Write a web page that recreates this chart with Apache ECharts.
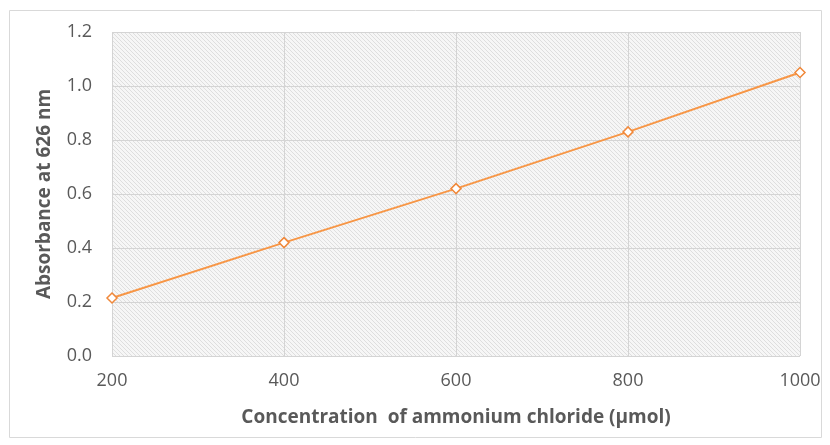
<!DOCTYPE html>
<html>
<head>
<meta charset="utf-8">
<script src="https://cdn.jsdelivr.net/npm/echarts@6/dist/echarts.min.js"></script>
<style>
  html, body { margin: 0; padding: 0; background: #fff; }
  #main { width: 830px; height: 445px; }
</style>
</head>
<body>
<div id="main"></div>
<script>
// concentration (µmol) and absorbance readings
var concentration = [200, 400, 600, 800, 1000];
var absorbance = [0.215, 0.42, 0.62, 0.83, 1.05];

// diagonal hatch for the plot area
function hatch() {
    var c = document.createElement('canvas');
    c.width = 4; c.height = 4;
    var ctx = c.getContext('2d');
    ctx.fillStyle = '#f6f6f6';
    ctx.fillRect(0, 0, 4, 4);
    ctx.strokeStyle = '#dedede';
    ctx.lineWidth = 1;
    ctx.beginPath();
    ctx.moveTo(0, 0); ctx.lineTo(4, 4);
    ctx.moveTo(-2, 2); ctx.lineTo(2, 6);
    ctx.moveTo(2, -2); ctx.lineTo(6, 2);
    ctx.stroke();
    return c;
}

var chart = echarts.init(document.getElementById('main'));
var txt = '#595959';
var font = '"Open Sans", "Liberation Sans", sans-serif';
chart.setOption({
    animation: false,
    graphic: [{
        type: 'rect',
        shape: { x: 9.5, y: 10.5, width: 812, height: 427 },
        style: { fill: 'none', stroke: '#d9d9d9', lineWidth: 1 }
    }],
    grid: {
        left: 112, right: 30, top: 32, bottom: 89,
        show: true,
        backgroundColor: { image: hatch(), repeat: 'repeat' },
        borderWidth: 0
    },
    xAxis: {
        type: 'value',
        min: 200, max: 1000, interval: 200,
        name: 'Concentration  of ammonium chloride (µmol)',
        nameLocation: 'middle',
        nameGap: 52,
        nameTextStyle: { color: txt, fontSize: 19, fontWeight: 'bold', fontFamily: font },
        axisLine: { show: false },
        axisTick: { show: false },
        axisLabel: { color: txt, fontSize: 18, fontFamily: font, margin: 16,
            formatter: function (v) { return String(v); } },
        splitLine: { show: true, lineStyle: { color: '#d4d4d4', width: 1 } }
    },
    yAxis: {
        type: 'value',
        min: 0, max: 1.2, interval: 0.2,
        name: 'Absorbance at 626 nm',
        nameLocation: 'middle',
        nameGap: 58,
        nameTextStyle: { color: txt, fontSize: 19, fontWeight: 'bold', fontFamily: font },
        axisLine: { show: false },
        axisTick: { show: false },
        axisLabel: { color: txt, fontSize: 18, fontFamily: font, margin: 20,
            formatter: function (v) { return v.toFixed(1); } },
        splitLine: { show: true, lineStyle: { color: '#d4d4d4', width: 1 } }
    },
    series: [{
        type: 'line',
        data: concentration.map(function (c, i) { return [c, absorbance[i]]; }),
        symbol: 'diamond',
        symbolSize: 10,
        lineStyle: { color: '#f79646', width: 2 },
        itemStyle: { color: '#fff', borderColor: '#f0883a', borderWidth: 1.5 }
    }]
});
</script>
</body>
</html>
